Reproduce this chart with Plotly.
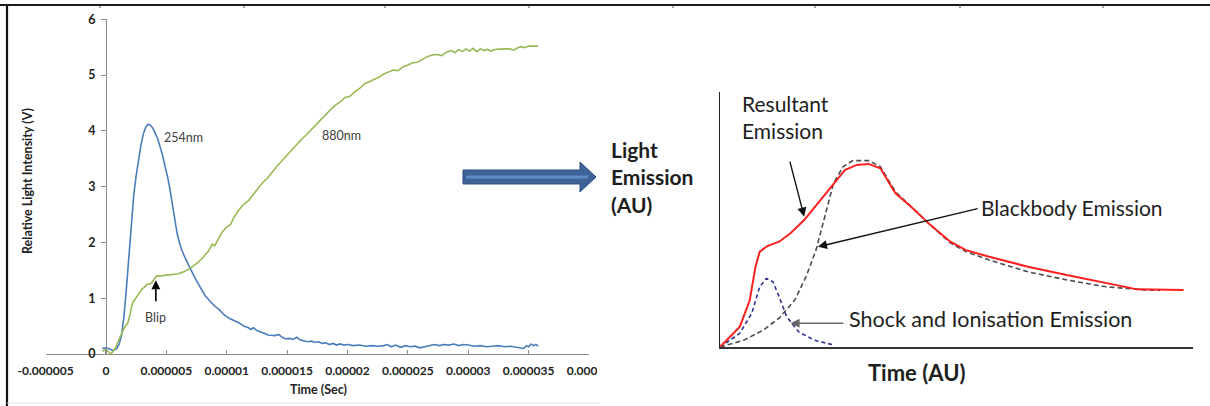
import plotly.graph_objects as go

W, H = 1210, 406

# ---------------- Left chart data (time in microseconds, relative light intensity in V) ----------------
t_254_us = [-0.3, 0.0, 0.3, 0.6, 0.9, 1.1, 1.3, 1.5, 1.7, 1.9, 2.1, 2.3, 2.5, 2.7, 2.9, 3.1, 3.3, 3.5, 3.7, 3.9,
            4.1, 4.3, 4.5, 4.7, 4.9, 5.1, 5.3, 5.5, 5.7, 5.9, 6.1, 6.3, 6.6, 7.0, 7.4, 7.8, 8.2, 8.6, 9.0, 9.4,
            9.8, 10.2, 10.6, 11.0, 11.4, 11.8, 12.0, 12.2, 12.5, 12.8, 13.1, 13.4, 13.7, 14.0, 14.3, 14.6, 14.9,
            15.2, 15.5, 15.8, 16.1, 16.4, 16.7, 17.0, 17.3, 17.6, 17.9, 18.2, 18.5, 18.8, 19.1, 19.4, 19.7, 20.0,
            20.5, 21.0, 21.5, 22.0, 22.5, 23.0, 23.3, 23.6, 24.0, 24.4, 24.8, 25.2, 25.6, 26.0, 26.4, 26.8, 27.2,
            27.6, 28.0, 28.4, 28.8, 29.2, 29.6, 30.0, 30.5, 31.0, 31.5, 32.0, 32.5, 33.0, 33.5, 34.0, 34.3, 34.6,
            34.8, 35.0, 35.2, 35.4, 35.6, 35.8]
v_254 = [0.10, 0.11, 0.09, 0.06, 0.10, 0.18, 0.35, 0.70, 1.20, 1.75, 2.30, 2.85, 3.20, 3.50, 3.75, 3.95, 4.07, 4.12, 4.10, 4.04,
         3.95, 3.85, 3.70, 3.55, 3.35, 3.18, 2.95, 2.70, 2.40, 2.15, 1.98, 1.85, 1.70, 1.52, 1.35, 1.20, 1.05, 0.95, 0.86, 0.79,
         0.70, 0.64, 0.60, 0.56, 0.50, 0.47, 0.44, 0.47, 0.42, 0.40, 0.37, 0.34, 0.34, 0.33, 0.35, 0.30, 0.27,
         0.28, 0.26, 0.30, 0.25, 0.24, 0.22, 0.23, 0.21, 0.22, 0.19, 0.20, 0.17, 0.19, 0.16, 0.18, 0.16, 0.17,
         0.15, 0.16, 0.14, 0.15, 0.14, 0.15, 0.17, 0.13, 0.16, 0.12, 0.15, 0.13, 0.14, 0.11, 0.13, 0.16, 0.17,
         0.15, 0.17, 0.16, 0.18, 0.15, 0.17, 0.16, 0.14, 0.15, 0.13, 0.14, 0.15, 0.13, 0.14, 0.12, 0.11, 0.10,
         0.15, 0.13, 0.18, 0.15, 0.17, 0.14]

t_880_us = [-0.3, 0.0, 0.2, 0.4, 0.6, 0.8, 1.0, 1.2, 1.4, 1.6, 1.8, 2.0, 2.2, 2.4, 2.6, 2.8, 3.0, 3.2, 3.4, 3.6,
            3.8, 4.0, 4.2, 4.5, 5.0, 5.5, 6.0, 6.5, 7.0, 7.5, 8.0, 8.5, 8.8, 9.0, 9.3, 9.6, 10.0, 10.3, 10.6, 11.0,
            11.4, 11.8, 12.2, 12.6, 13.0, 13.4, 13.8, 14.2, 14.6, 15.0, 15.4, 15.8, 16.2, 16.6, 17.0, 17.4, 17.8,
            18.2, 18.6, 19.0, 19.4, 19.8, 20.2, 20.6, 21.0, 21.4, 21.8, 22.2, 22.6, 23.0, 23.4, 23.8, 24.2, 24.6,
            25.0, 25.4, 25.8, 26.2, 26.6, 27.0, 27.4, 27.8, 28.2, 28.6, 28.9, 29.2, 29.5, 29.8, 30.1, 30.4, 30.7,
            31.0, 31.3, 31.6, 31.9, 32.2, 32.6, 33.0, 33.4, 33.8, 34.1, 34.4, 34.7, 35.0, 35.4, 35.8]
v_880 = [0.05, 0.08, 0.04, 0.00, 0.05, 0.12, 0.22, 0.33, 0.42, 0.50, 0.55, 0.72, 0.92, 0.98, 1.05, 1.12, 1.17, 1.20, 1.25, 1.25,
         1.28, 1.35, 1.40, 1.40, 1.41, 1.43, 1.44, 1.48, 1.54, 1.62, 1.72, 1.85, 1.97, 1.94, 2.05, 2.18, 2.28, 2.32, 2.45, 2.58,
         2.68, 2.75, 2.86, 2.98, 3.08, 3.16, 3.28, 3.38, 3.47, 3.57, 3.66, 3.76, 3.85, 3.93, 4.02, 4.12, 4.20,
         4.30, 4.38, 4.46, 4.52, 4.60, 4.62, 4.70, 4.76, 4.84, 4.88, 4.93, 4.96, 5.02, 5.05, 5.09, 5.08, 5.15,
         5.18, 5.22, 5.23, 5.28, 5.33, 5.36, 5.37, 5.35, 5.41, 5.44, 5.40, 5.46, 5.42, 5.47, 5.43, 5.48, 5.42,
         5.47, 5.44, 5.46, 5.43, 5.46, 5.47, 5.47, 5.47, 5.45, 5.49, 5.51, 5.49, 5.52, 5.52, 5.52]

x_tick_vals = [-0.000005, 0, 0.000005, 0.00001, 0.000015, 0.00002, 0.000025, 0.00003, 0.000035, 0.00004]
x_tick_text = ["-0.000005", "0", "0.000005", "0.00001", "0.000015", "0.00002", "0.000025", "0.00003", "0.000035", "0.00004"]
y_tick_vals = [0, 1, 2, 3, 4, 5, 6]

# ---------------- Right schematic data (arbitrary units) ----------------
res_x = [0, 4.2, 6.3, 7.5, 8.4, 10.0, 12.5, 14.9, 17.8, 20.7, 24.0, 26.4, 28.9, 31.4, 33.9, 37.1, 40.4, 44.5,
         48.7, 52.0, 56.9, 65.1, 73.3, 81.6, 88.2, 98.0]
res_y = [0, 8.0, 18.4, 31.5, 37.4, 39.6, 41.3, 44.6, 49.8, 56.4, 64.2, 69.4, 71.4, 71.8, 70.1, 60.3, 55.0, 47.8,
         41.3, 38.0, 35.4, 31.5, 28.2, 25.0, 22.6, 22.4]
bb_x = [0, 5.1, 9.2, 12.5, 15.8, 18.2, 20.3, 21.9, 24.0, 26.0, 28.1, 31.4, 33.9, 37.1, 40.4, 44.5, 48.7, 52.0,
        56.9, 65.1, 73.3, 81.6, 89.8, 93.0]
bb_y = [0, 2.7, 6.7, 11.3, 18.4, 27.6, 38.0, 49.8, 64.2, 70.7, 73.1, 73.1, 70.7, 60.9, 55.0, 47.8, 40.8, 37.4,
        34.1, 29.5, 26.3, 23.6, 22.4, 22.2]
sh_x = [0, 4.2, 6.7, 8.4, 9.8, 11.2, 12.5, 14.1, 16.6, 19.9, 24.0]
sh_y = [0, 5.4, 13.2, 23.6, 26.9, 25.6, 19.7, 11.9, 6.0, 2.7, 0.8]

FONT = "Lato"


def px(x, y):
    """pixel -> paper coordinates (margins are zero)"""
    return x / W, 1 - y / H


fig = go.Figure()

fig.add_trace(go.Scatter(x=[t * 1e-6 for t in t_254_us], y=v_254, mode="lines",
                         line=dict(color="#4a7ebb", width=1.6), xaxis="x", yaxis="y", showlegend=False))
fig.add_trace(go.Scatter(x=[t * 1e-6 for t in t_880_us], y=v_880, mode="lines",
                         line=dict(color="#98b954", width=1.6), xaxis="x", yaxis="y", showlegend=False))

fig.add_trace(go.Scatter(x=bb_x, y=bb_y, mode="lines", line=dict(color="#4d4d4d", width=1.6, dash="5px,3px"),
                         xaxis="x2", yaxis="y2", showlegend=False))
fig.add_trace(go.Scatter(x=sh_x, y=sh_y, mode="lines", line=dict(color="#2e3192", width=1.6, dash="4px,3px"),
                         xaxis="x2", yaxis="y2", showlegend=False))
fig.add_trace(go.Scatter(x=res_x, y=res_y, mode="lines", line=dict(color="#ff2020", width=2),
                         xaxis="x2", yaxis="y2", showlegend=False))

# left axes geometry (pixels)
x0px, x1px = 45.6, 589.0
y0px, y6px = 354.0, 19.3
xdom = [x0px / W, x1px / W]
ydom = [1 - y0px / H, 1 - y6px / H]
zero_pos = xdom[0] + (xdom[1] - xdom[0]) * (5 / 45)

fig.update_layout(
    template="none",
    width=W, height=H, autosize=False,
    margin=dict(l=0, r=0, t=0, b=0, pad=0, autoexpand=False),
    paper_bgcolor="white", plot_bgcolor="rgba(0,0,0,0)",
    font=dict(family=FONT),
    hovermode=False,
    xaxis=dict(domain=xdom, range=[-0.000005, 0.00004], tickvals=x_tick_vals, ticktext=x_tick_text,
               showgrid=False, zeroline=False, showline=True, linecolor="#8c8c8c", linewidth=1,
               ticks="inside", ticklen=4, tickcolor="#8c8c8c", ticklabelstandoff=6, automargin=False,
               tickfont=dict(family=FONT, size=12, color="#222222", weight="bold"), anchor="y"),
    yaxis=dict(domain=ydom, range=[0, 6], tickvals=y_tick_vals, showgrid=False, zeroline=False,
               showline=True, linecolor="#8c8c8c", linewidth=1, ticks="outside", ticklen=5, tickcolor="#8c8c8c",
               ticklabelstandoff=3, automargin=False,
               tickfont=dict(family=FONT, size=12.5, color="#222222", weight="bold"),
               anchor="free", position=zero_pos),
    xaxis2=dict(domain=[720 / W, 1193 / W], range=[0, 100], showgrid=False, zeroline=False, showline=True,
                linecolor="#333333", linewidth=2, showticklabels=False, ticks="", anchor="y2", automargin=False),
    yaxis2=dict(domain=[1 - 347 / H, 1 - 92 / H], range=[0, 100], showgrid=False, zeroline=False, showline=True,
                linecolor="#222222", linewidth=1.5, showticklabels=False, ticks="", anchor="x2", automargin=False),
)

ann = []
# left chart annotations
ann.append(dict(x=4.6e-6, y=3.88, xref="x", yref="y", text="254nm", showarrow=False, xanchor="left",
                yanchor="middle", font=dict(family=FONT, size=12.5, color="#404040")))
ann.append(dict(x=17.7e-6, y=3.92, xref="x", yref="y", text="880nm", showarrow=False, xanchor="left",
                yanchor="middle", font=dict(family=FONT, size=12.5, color="#404040")))
ann.append(dict(x=4.13e-6, y=0.66, xref="x", yref="y", text="Blip", showarrow=False, xanchor="center",
                yanchor="middle", font=dict(family=FONT, size=12.5, color="#404040")))
ann.append(dict(x=4.13e-6, y=1.32, ax=4.13e-6, ay=0.92, xref="x", yref="y", axref="x", ayref="y", text="",
                showarrow=True, arrowhead=2, arrowsize=1.1, arrowwidth=1.6, arrowcolor="#000000"))
# axis titles (left)
ax_, ay_ = px(28, 181)
ann.append(dict(x=ax_, y=ay_, xref="paper", yref="paper", text="Relative Light Intensity (V)", textangle=-90,
                xanchor="center", yanchor="middle",
                showarrow=False, font=dict(family=FONT, size=12.5, color="#222222", weight="bold")))
ax_, ay_ = px(318, 389)
ann.append(dict(x=ax_, y=ay_, xref="paper", yref="paper", text="Time (Sec)", showarrow=False,
                xanchor="center", yanchor="middle",
                font=dict(family=FONT, size=12.5, color="#222222", weight="bold")))

# right schematic texts
for txt, (xx, yy), anchor, bold, size in [
    ("Resultant<br>Emission", (740, 117), "left", False, 21),
    ("Blackbody Emission", (979, 207), "left", False, 21),
    ("Shock and Ionisation Emission", (847, 319), "left", False, 21.5),
    ("Light<br>Emission<br>(AU)", (609, 177), "left", True, 21),
    ("Time (AU)", (917, 372), "center", True, 22),
]:
    p = px(xx, yy)
    f = dict(family=FONT, size=size, color="#1e1e1e")
    if bold:
        f["weight"] = "bold"
    ann.append(dict(x=p[0], y=p[1], xref="paper", yref="paper", text=txt, showarrow=False, xanchor=anchor,
                    yanchor="middle", align="left", font=f))

# right schematic arrows
ann.append(dict(x=17.8, y=51.1, ax=14.7, ay=73.3, xref="x2", yref="y2", axref="x2", ayref="y2", text="",
                showarrow=True, arrowhead=2, arrowsize=1.3, arrowwidth=1.4, arrowcolor="#111111"))
ann.append(dict(x=20.7, y=39.3, ax=54.8, ay=54.4, xref="x2", yref="y2", axref="x2", ayref="y2", text="",
                showarrow=True, arrowhead=2, arrowsize=1.3, arrowwidth=1.4, arrowcolor="#111111"))
ann.append(dict(x=14.9, y=9.3, ax=26.4, ay=9.3, xref="x2", yref="y2", axref="x2", ayref="y2", text="",
                showarrow=True, arrowhead=2, arrowsize=1.3, arrowwidth=1.4, arrowcolor="#666666"))
fig.update_layout(annotations=ann)

# decorative shapes: frame lines, clipping, block arrow
shapes = []


def line_px(x0, y0, x1, y1, color, width):
    a, b = px(x0, y0)
    c, d = px(x1, y1)
    shapes.append(dict(type="line", xref="paper", yref="paper", x0=a, y0=b, x1=c, y1=d,
                       line=dict(color=color, width=width), layer="above"))


# clip the left panel at its right edge (partially hides last tick label)
a, b = px(597, 358)
c, d = px(616, 400)
shapes.append(dict(type="rect", xref="paper", yref="paper", x0=a, y0=b, x1=c, y1=d,
                   fillcolor="white", line=dict(width=0), layer="above"))
line_px(0, 5, W, 5, "#1a1a1a", 2.2)
line_px(7, 5, 7, H, "#111111", 2.2)
line_px(7, 403, 600, 403, "#e4e4e4", 1)
for tx in [100, 244, 385, 529, 673, 815, 960, 1103]:
    line_px(tx, 5, tx, 8, "#444444", 1)

# block arrow
pts = [(463, 170), (580, 170), (580, 162), (596, 177), (580, 192), (580, 184), (463, 184)]
path = "M " + " L ".join(f"{px(x, y)[0]:.5f},{px(x, y)[1]:.5f}" for x, y in pts) + " Z"
shapes.append(dict(type="path", xref="paper", yref="paper", path=path, fillcolor="#3e6398",
                   line=dict(color="#2b4c7e", width=1), layer="above"))
line_px(466, 177, 588, 177, "#5f8cc6", 3)

fig.update_layout(shapes=shapes)

fig.write_html("out.html", config={"displayModeBar": False, "staticPlot": True},
               post_script="document.body.style.margin='0';document.body.style.overflow='hidden';")
